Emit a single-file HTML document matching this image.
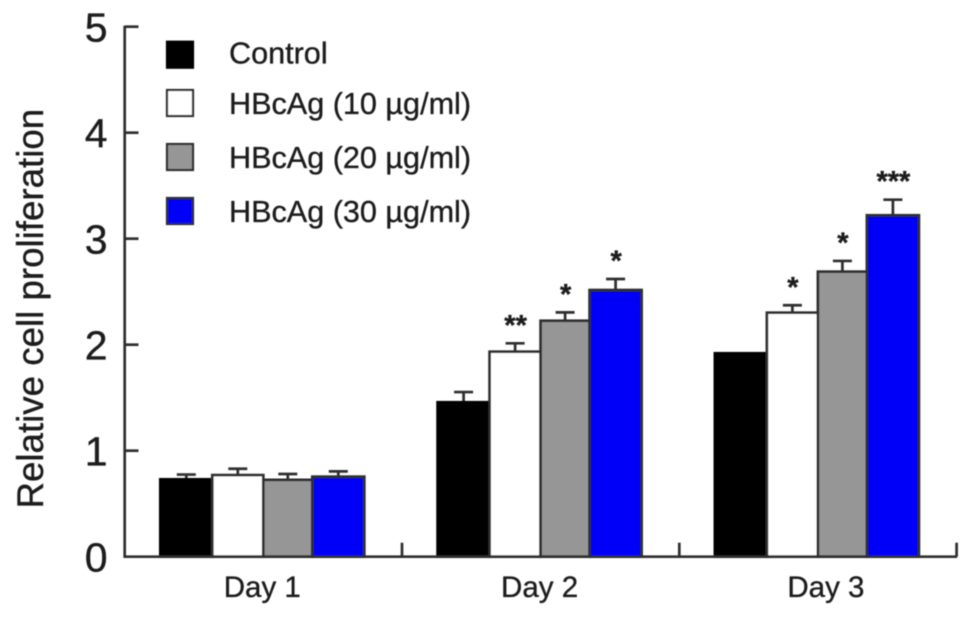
<!DOCTYPE html>
<html lang="en">
<head>
<meta charset="utf-8">
<title>Relative cell proliferation</title>
<style>
html,body{margin:0;padding:0;background:#fff;width:969px;height:617px;overflow:hidden}
svg{display:block}
text{font-family:"Liberation Sans",sans-serif;fill:#1c1c1c;stroke:#1c1c1c;stroke-width:.35px}
</style>
</head>
<body>
<svg id="chart" width="969" height="617" viewBox="0 0 969 617" xmlns="http://www.w3.org/2000/svg">
<defs><filter id="soft" x="-2%" y="-2%" width="104%" height="104%"><feGaussianBlur stdDeviation="0.45"/></filter></defs>
<rect width="969" height="617" fill="#fff"/>
<g id="root" filter="url(#soft)"></g>
</svg>
<script>
const categories = ["Day 1", "Day 2", "Day 3"];
const seriesNames = ["Control", "HBcAg (10 µg/ml)", "HBcAg (20 µg/ml)", "HBcAg (30 µg/ml)"];
const controlValues = [0.73, 1.457, 1.919];
const hbcag10Values = [0.77, 1.934, 2.302];
const hbcag20Values = [0.725, 2.226, 2.689];
const hbcag30Values = [0.755, 2.516, 3.221];
const controlErrors = [0.045, 0.096, 0];
const hbcag10Errors = [0.06, 0.079, 0.07];
const hbcag20Errors = [0.055, 0.079, 0.101];
const hbcag30Errors = [0.05, 0.104, 0.147];
const hbcag10Stars = ["", "**", "*"];
const hbcag20Stars = ["", "*", "*"];
const hbcag30Stars = ["", "*", "***"];
const yTickLabels = [0, 1, 2, 3, 4, 5];

const seriesValues = [controlValues, hbcag10Values, hbcag20Values, hbcag30Values];
const seriesErrors = [controlErrors, hbcag10Errors, hbcag20Errors, hbcag30Errors];
const seriesStars = [[], hbcag10Stars, hbcag20Stars, hbcag30Stars];
const fills = ["#000000", "#ffffff", "#969696", "#0000f8"];
const slugs = ["control", "hbcag-10", "hbcag-20", "hbcag-30"];

const NS = "http://www.w3.org/2000/svg";
const root = document.getElementById("root");
const INK = "#2e2e2e";
const SW = 2.7;

function yScale(v) { return 556.7 - v * 106; }
function groupLeft(i) { return 160.3 + i * 277.3; }
function barEdge(i, s) { return groupLeft(i) + [0, 52, 103, 152, 204][s]; }
function catCentre(i) { return groupLeft(i) + 102 + (i === 2 ? 9 : 0); }

function make(tag, attrs, parent) {
  const el = document.createElementNS(NS, tag);
  for (const k in attrs) el.setAttribute(k, attrs[k]);
  (parent || root).appendChild(el);
  return el;
}
function line(x1, y1, x2, y2) {
  return make("line", { x1: x1, y1: y1, x2: x2, y2: y2, stroke: INK, "stroke-width": SW });
}
function label(str, x, y, size, anchor) {
  const t = make("text", { x: x, y: y, "font-size": size, "text-anchor": anchor || "start" });
  t.textContent = str;
  return t;
}

// bars
categories.forEach(function (cat, i) {
  seriesValues.forEach(function (vals, s) {
    const x0 = barEdge(i, s), x1 = barEdge(i, s + 1), cx = (x0 + x1) / 2;
    const top = yScale(vals[i]);
    const capY = yScale(vals[i] + seriesErrors[s][i]);
    if (seriesErrors[s][i] > 0) {
      const stem = line(cx, top, cx, capY);
      
      
      const cap = line(cx - 9.5, capY, cx + 9.5, capY);
      
      
    }
    const bar = make("rect", { x: x0, y: top, width: x1 - x0, height: yScale(0) - top, fill: fills[s], stroke: s === 0 ? "#000" : INK, "stroke-width": SW });
    
    
    const star = seriesStars[s][i];
    if (star) {
      const st = label(star, cx + 0.5, capY - 8.5, 29, "middle");
      st.setAttribute("font-weight", "bold");
      
      
    }
  });
  const catLabel = label(cat, catCentre(i), 597, 29.5, "middle");
  
  
  const xt = line(groupLeft(i) + 241.7, yScale(0), groupLeft(i) + 241.7, yScale(0) - 14);
  
  
});

// axes
const yAxis = line(124.7, yScale(5) - 1, 124.7, yScale(0) + 1);


const xAxis = line(123.5, yScale(0), 957, yScale(0));



yTickLabels.forEach(function (v) {
  if (v > 0) {
    const tk = line(124.7, yScale(v), 138.5, yScale(v));
    
    
  }
  const tl = label(String(v), 107.5, yScale(v) + 15, 41, "end");
  
  
});

// y title
const yTitle = make("text", { transform: "translate(43,508.5) rotate(-90)", "font-size": 36.7 });
yTitle.textContent = "Relative cell proliferation";



// legend
function legendTop(s) { return [41.7, 90, 144, 198][s]; }
function legendBaseline(s) { return [63.5, 114, 168, 222][s]; }
seriesNames.forEach(function (name, s) {
  const sw = make("rect", { x: 167, y: legendTop(s), width: 26, height: 26, fill: fills[s], stroke: s === 0 ? "#000" : INK, "stroke-width": 2.2 });
  
  
  const lt = label(name, 229, legendBaseline(s), 30.6);
  
  
});
</script>
</body>
</html>
